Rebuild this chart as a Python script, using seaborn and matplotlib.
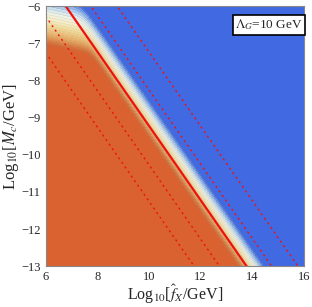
import numpy as np
import pandas as pd
import matplotlib
matplotlib.use("Agg")
import matplotlib.pyplot as plt
from matplotlib.colors import LinearSegmentedColormap
import seaborn as sns

# colour stops (0 = orange side, 1 = blue side)
levels = [0.0, 0.12, 0.25, 0.38, 0.5, 0.6, 0.7, 0.8, 0.9, 1.0]
colors = ['#D96230', '#DE7A3E', '#E6A05A', '#EEC47E', '#F3DE9E',
          '#F6EDC8', '#EEF2E6', '#C9DFEE', '#86AEEA', '#4169E1']

# where each level sits along the diagonal u = log f + log M
diag_u = [0.48, 0.58, 0.69, 0.79, 0.90, 1.02, 1.14, 1.26, 1.38, 1.50]
# where each level sits on the left edge (x = 6), as log M
left_y = [-7.02, -6.92, -6.80, -6.64, -6.48, -6.32, -6.16, -6.00, -5.85, -5.70]

# straight lines log M = c - log f
solid_c = 0.78
dotted_c = [-1.25, -0.27, 1.75, 2.77]

x_range = [6, 16]
y_range = [-13, -6]


def lin_interp(v, xp, fp):
    out = np.interp(v, xp, fp)
    lo = (fp[1] - fp[0]) / (xp[1] - xp[0])
    hi = (fp[-1] - fp[-2]) / (xp[-1] - xp[-2])
    out = np.where(v < xp[0], fp[0] + (v - xp[0]) * lo, out)
    out = np.where(v > xp[-1], fp[-1] + (v - xp[-1]) * hi, out)
    return out


xs = np.linspace(x_range[0], x_range[1], 400)
ys = np.linspace(y_range[0], y_range[1], 300)
X, Y = np.meshgrid(xs, ys)
zu = lin_interp(X + Y, diag_u, levels)
zv = lin_interp(Y + 0.15 * (X - 6), left_y, levels)
k = 10.0
m = np.maximum(zu, zv)
Z = m + np.log(np.exp(k * (zu - m)) + np.exp(k * (zv - m))) / k

sns.set_style("ticks")
plt.rcParams['font.family'] = ['Liberation Serif', 'DejaVu Serif']
plt.rcParams['mathtext.fontset'] = 'stix'

cmap = LinearSegmentedColormap.from_list("band", list(zip(levels, colors)))
cmap.set_under(colors[0])
cmap.set_over(colors[-1])

fig = plt.figure(figsize=(3.12, 3.07), dpi=100)
ax = fig.add_axes([0.146, 0.133, 0.828, 0.847])

lv = np.linspace(0, 1, 22)
ax.contourf(X, Y, Z, levels=lv, cmap=cmap, extend='both')
ax.contour(X, Y, Z, levels=lv, colors='#777777', linewidths=0.25, alpha=0.3)

rows = []
for i, c in enumerate(dotted_c):
    for xv in x_range:
        rows.append({'x': xv, 'y': c - xv, 'line': i})
lines_df = pd.DataFrame(rows)
for i, g in lines_df.groupby('line'):
    sns.lineplot(data=g, x='x', y='y', ax=ax, color='#F01010', lw=1.0,
                 linestyle=(0, (1.5, 2.5)), legend=False, estimator=None)
solid_df = pd.DataFrame({'x': x_range, 'y': [solid_c - v for v in x_range]})
sns.lineplot(data=solid_df, x='x', y='y', ax=ax, color='#F01010', lw=1.6,
             legend=False, estimator=None)

ax.set_xlim(*x_range)
ax.set_ylim(*y_range)
ax.set_xticks([6, 8, 10, 12, 14, 16])
ax.set_yticks(list(range(-13, -5)))
ax.set_xticks(np.arange(6, 16.01, 0.5), minor=True)
ax.set_yticks(np.arange(-13, -5.99, 0.2), minor=True)
ax.tick_params(which='both', direction='in', top=True, right=True,
               labelsize=9, color='#444444')
ax.tick_params(which='major', length=3, width=0.6)
ax.tick_params(which='minor', length=1.5, width=0.5)
for s in ax.spines.values():
    s.set_color('#888888')
    s.set_linewidth(0.8)

ax.set_xlabel(r'Log$_{10}$[$\hat{f}_X$/GeV]', fontsize=11.5, labelpad=-0.5)
ax.set_ylabel(r'Log$_{10}$[$M_c$/GeV]', fontsize=12, labelpad=0)

ax.text(0.996, 0.957, r'$\Lambda_G$=10 GeV', transform=ax.transAxes,
        ha='right', va='top', fontsize=9.5,
        bbox=dict(boxstyle='square,pad=0.2', fc='white', ec='black', lw=1.2))

fig.savefig("out.png", dpi=100)
